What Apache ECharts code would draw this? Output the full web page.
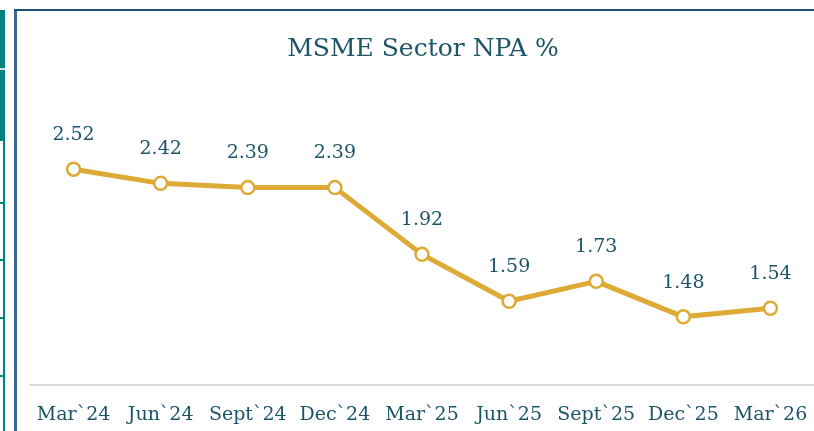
<!DOCTYPE html>
<html><head><meta charset="utf-8">
<script src="https://cdn.jsdelivr.net/npm/echarts@6/dist/echarts.min.js"></script>
<style>html,body{margin:0;padding:0;background:#fff}#c{width:814px;height:431px}</style>
</head><body><div id="c"></div>
<script>
const categories = ["Mar`24","Jun`24","Sept`24","Dec`24","Mar`25","Jun`25","Sept`25","Dec`25","Mar`26"];
const npaValues = [2.52, 2.42, 2.39, 2.39, 1.92, 1.59, 1.73, 1.48, 1.54];
const titleText = "MSME Sector NPA %";
const FONT = "'DejaVu Serif', serif";
const TXT = "#1c5468";
const chart = echarts.init(document.getElementById('c'));
chart.setOption({
  backgroundColor: '#ffffff',
  animation: false,
  title: { text: titleText, left: 418, top: 32, textAlign: 'center',
    textStyle: { fontFamily: FONT, fontSize: 25, fontWeight: 'normal', color: TXT } },
  grid: { left: 30, right: 0, top: 101, bottom: 46 },
  xAxis: { type: 'category', data: categories, boundaryGap: true,
    axisLine: { lineStyle: { color: '#d9d9d9', width: 2 } },
    axisTick: { show: false },
    axisLabel: { fontFamily: FONT, fontSize: 19, color: TXT, margin: 21, interval: 0 } },
  yAxis: { type: 'value', min: 1, max: 3, show: false },
  series: [{
    type: 'line', data: npaValues, symbol: 'circle', symbolSize: 13,
    lineStyle: { color: '#dcaa35', width: 5 },
    itemStyle: { color: '#ffffff', borderColor: '#dcaa35', borderWidth: 2.5 },
    label: { show: true, position: 'top', distance: 17, formatter: p => p.value.toFixed(2),
      fontFamily: FONT, fontSize: 19, color: TXT }
  }],
  graphic: [
    { type: 'rect', shape: { x: 0, y: 10, width: 5, height: 131 }, style: { fill: '#00827f' } },
    { type: 'rect', shape: { x: 0, y: 68, width: 5, height: 2 }, style: { fill: '#cfe3e2' } },
    { type: 'rect', shape: { x: 3, y: 141, width: 2, height: 290 }, style: { fill: '#00827f' } },
    { type: 'rect', shape: { x: 0, y: 202, width: 5, height: 2 }, style: { fill: '#00827f' } },
    { type: 'rect', shape: { x: 0, y: 259, width: 5, height: 2 }, style: { fill: '#00827f' } },
    { type: 'rect', shape: { x: 0, y: 317, width: 5, height: 2 }, style: { fill: '#00827f' } },
    { type: 'rect', shape: { x: 0, y: 375, width: 5, height: 2 }, style: { fill: '#00827f' } },
    { type: 'rect', shape: { x: 14, y: 9, width: 3, height: 422 }, style: { fill: '#3d6691' } },
    { type: 'rect', shape: { x: 14, y: 9, width: 800, height: 2 }, style: { fill: '#1f4e79' } }
  ]
});
</script></body></html>
